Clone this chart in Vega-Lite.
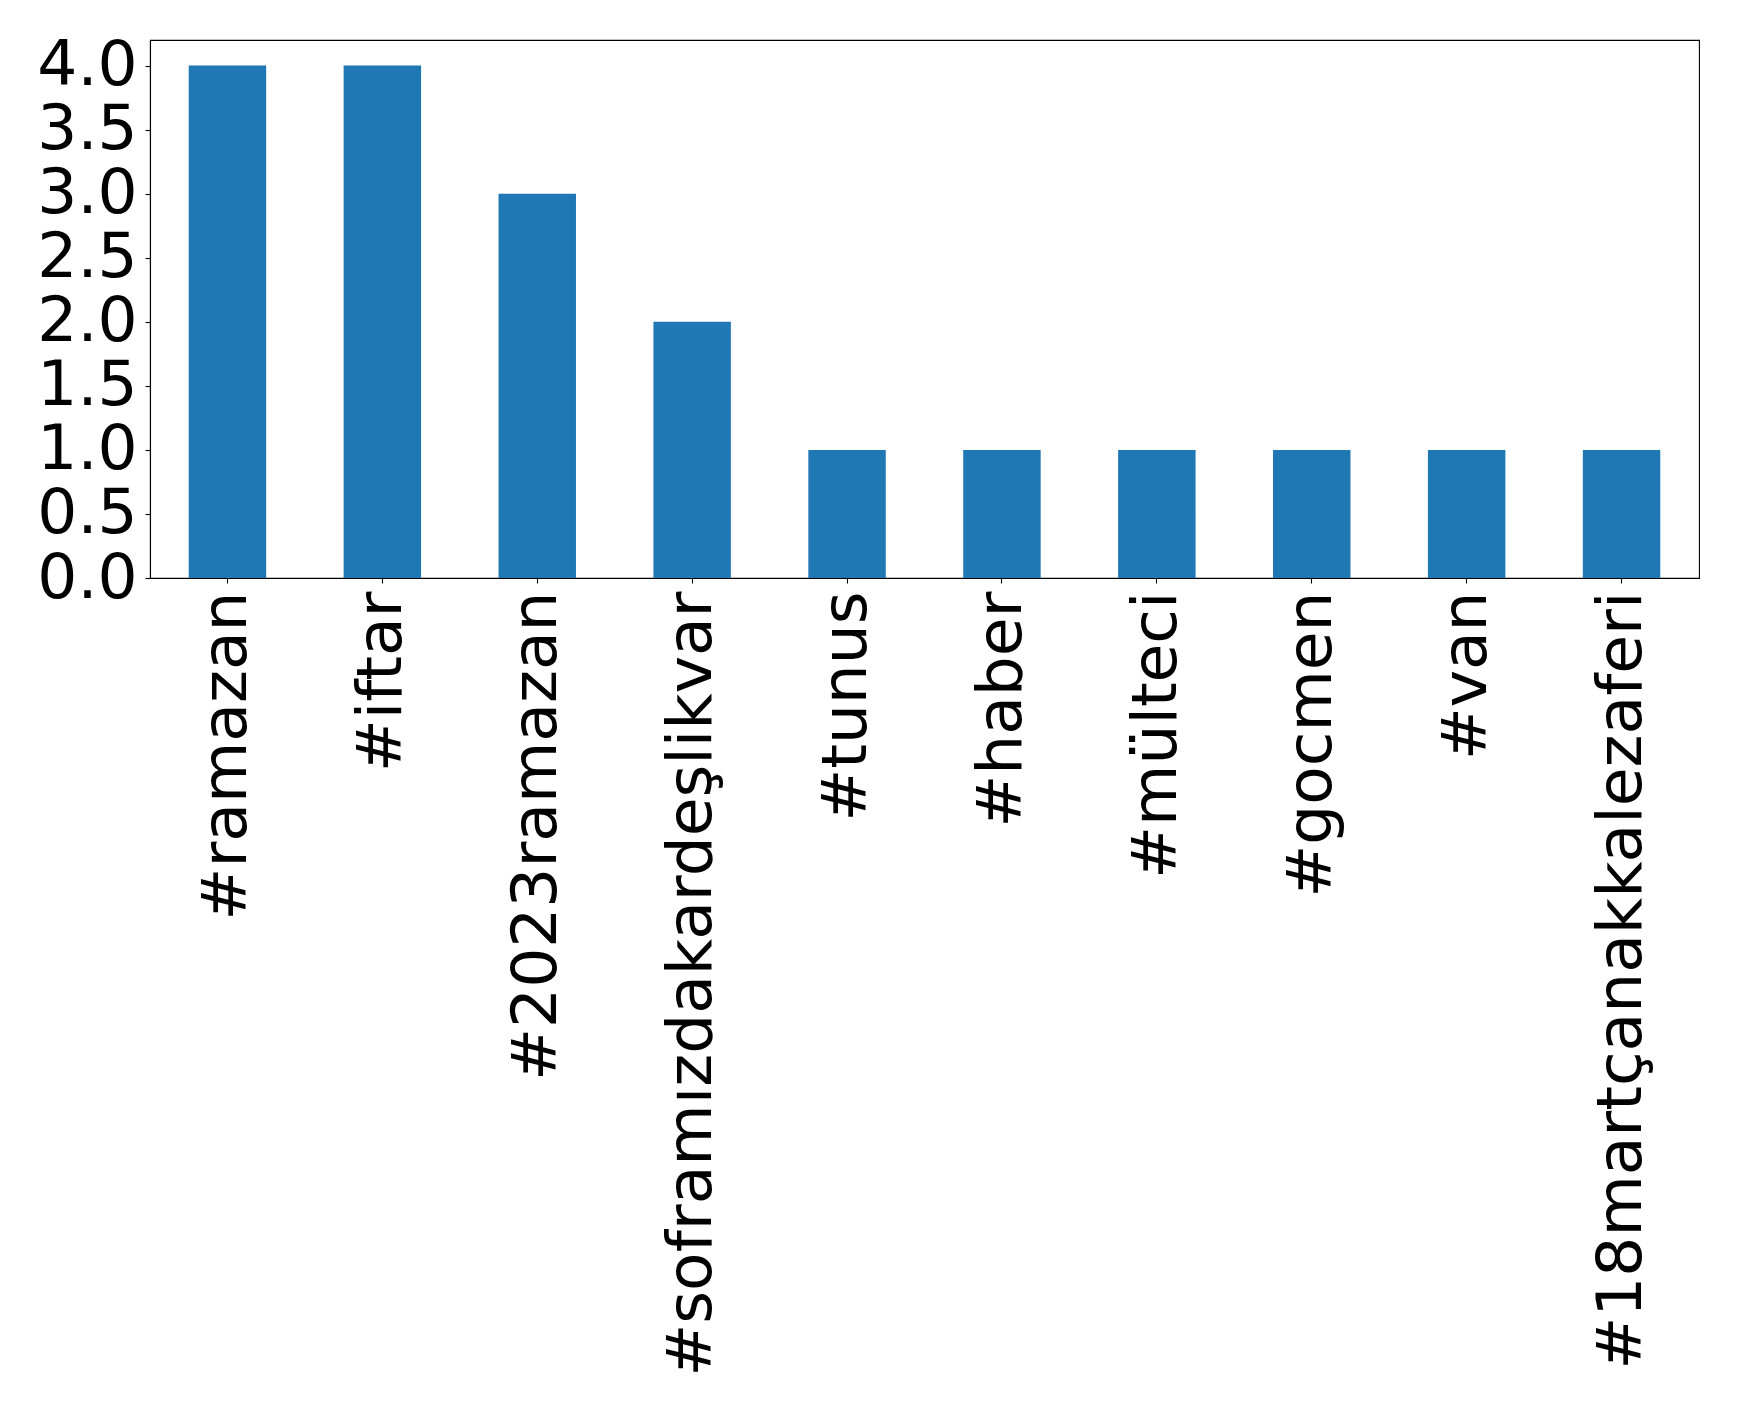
{
  "$schema": "https://vega.github.io/schema/vega-lite/v6.json",
  "autosize": {"type": "none"},
  "padding": {"left": 150, "top": 40, "right": 40, "bottom": 828},
  "width": 1549,
  "height": 538,
  "background": "white",
  "data": {
    "values": [
      {"tag": "#ramazan", "count": 4},
      {"tag": "#iftar", "count": 4},
      {"tag": "#2023ramazan", "count": 3},
      {"tag": "#soframızdakardeşlikvar", "count": 2},
      {"tag": "#tunus", "count": 1},
      {"tag": "#haber", "count": 1},
      {"tag": "#mülteci", "count": 1},
      {"tag": "#gocmen", "count": 1},
      {"tag": "#van", "count": 1},
      {"tag": "#18martçanakkalezaferi", "count": 1}
    ]
  },
  "config": {
    "view": {"stroke": "black", "strokeWidth": 1.1},
    "font": "DejaVu Sans"
  },
  "mark": {"type": "bar", "color": "#1f77b4"},
  "encoding": {
    "x": {
      "field": "tag",
      "type": "nominal",
      "sort": null,
      "scale": {"paddingInner": 0.5, "paddingOuter": 0.25},
      "axis": {
        "title": null,
        "labelAngle": -90,
        "labelAlign": "right",
        "labelBaseline": "middle",
        "labelFont": "DejaVu Sans",
        "labelFontSize": 63,
        "labelColor": "black",
        "labelPadding": 8,
        "labelLimit": 0,
        "labelOverlap": false,
        "tickColor": "black",
        "tickSize": 5,
        "tickWidth": 1.1,
        "domainColor": "black",
        "domainWidth": 1.1,
        "grid": false
      }
    },
    "y": {
      "field": "count",
      "type": "quantitative",
      "scale": {"domain": [0, 4.2], "nice": false},
      "axis": {
        "title": null,
        "values": [0, 0.5, 1, 1.5, 2, 2.5, 3, 3.5, 4],
        "format": ".1f",
        "labelFont": "DejaVu Sans",
        "labelFontSize": 63,
        "labelColor": "black",
        "labelPadding": 8,
        "labelOverlap": false,
        "labelFlush": false,
        "tickColor": "black",
        "tickSize": 5,
        "tickWidth": 1.1,
        "domainColor": "black",
        "domainWidth": 1.1,
        "grid": false
      }
    }
  }
}
